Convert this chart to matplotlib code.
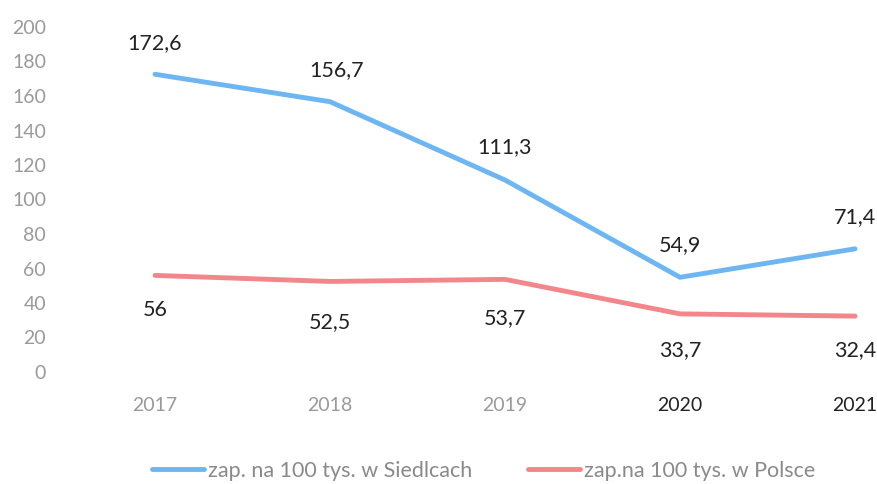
import matplotlib.pyplot as plt

plt.rcParams['font.family'] = ['Lato', 'DejaVu Sans']

# data
years = [2017, 2018, 2019, 2020, 2021]
siedlce = [172.6, 156.7, 111.3, 54.9, 71.4]
polska = [56, 52.5, 53.7, 33.7, 32.4]
siedlce_lbl = ['172,6', '156,7', '111,3', '54,9', '71,4']
polska_lbl = ['56', '52,5', '53,7', '33,7', '32,4']

# label offsets (pixels)
off_s = [(0, 31), (7, 32), (0, 33), (0, 32), (0, 32)]
off_p = [(0, -35), (0, -41), (0, -39), (0, -36), (0, -34)]

blue = '#6db6f2'
red = '#f2868a'

fig = plt.figure(figsize=(8.77, 4.84), dpi=100)
ax = fig.add_axes([60 / 877, 112 / 484, 1 - 60 / 877, 345 / 484])

ax.plot(years, siedlce, color=blue, lw=3.5, solid_capstyle='round',
        label='zap. na 100 tys. w Siedlcach', clip_on=False)
ax.plot(years, polska, color=red, lw=3.5, solid_capstyle='round',
        label='zap.na 100 tys. w Polsce', clip_on=False)

px = 0.72
for x, y, t, o in zip(years, siedlce, siedlce_lbl, off_s):
    ax.annotate(t, (x, y), xytext=(o[0] * px, o[1] * px), textcoords='offset points',
                ha='center', va='center', fontsize=15.5, color='#222222')
for x, y, t, o in zip(years, polska, polska_lbl, off_p):
    ax.annotate(t, (x, y), xytext=(o[0] * px, o[1] * px), textcoords='offset points',
                ha='center', va='center', fontsize=15.5, color='#222222')

ax.set_xlim(2017 - 95 / 175, 2017 + 722 / 175)
ax.set_ylim(0, 200)
ax.set_yticks(range(0, 201, 20))
ax.set_xticks(years)
ax.tick_params(length=0)
ax.tick_params(axis='y', pad=10, labelsize=14, labelcolor='#9a9a9a')
ax.tick_params(axis='x', pad=18, labelsize=14, labelcolor='#9a9a9a')
for lab in ax.get_xticklabels()[3:]:
    lab.set_color('#222222')
for s in ax.spines.values():
    s.set_visible(False)

fig.legend(loc='center', bbox_to_anchor=(484 / 877, 13 / 484), ncol=2, frameon=False,
           fontsize=15.5, handlelength=2.4, handletextpad=0.2, columnspacing=2.6,
           labelcolor='#8a8a8a')

fig.savefig('out.png', dpi=100)
